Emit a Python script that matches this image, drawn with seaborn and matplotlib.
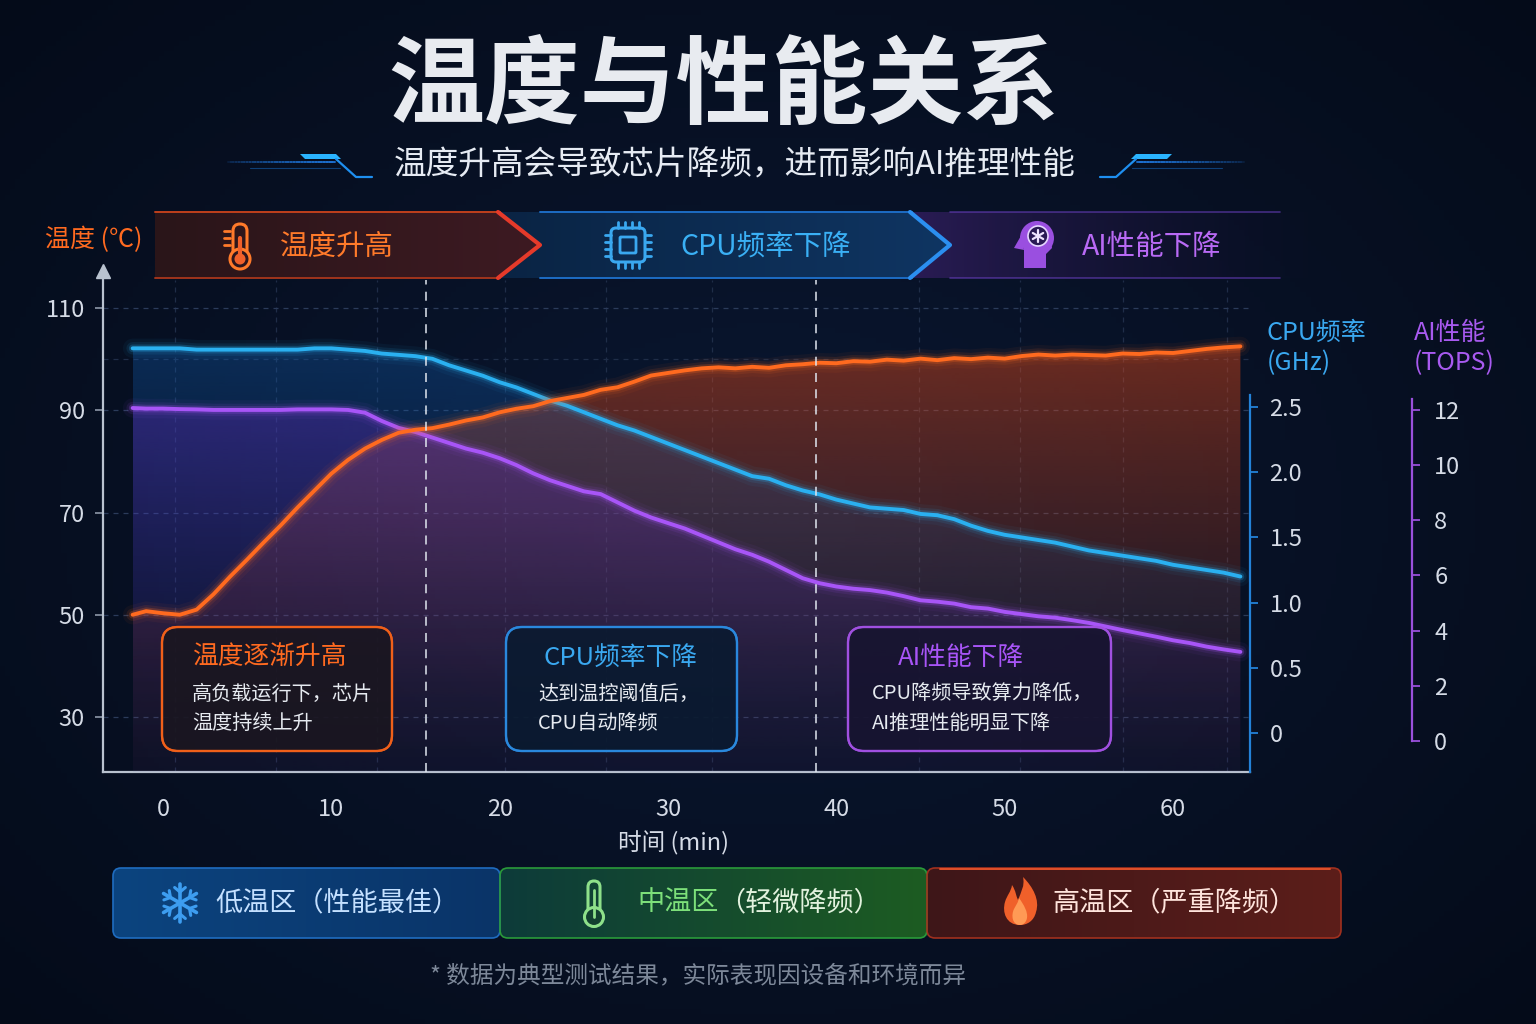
import numpy as np
import pandas as pd
import matplotlib
matplotlib.use("Agg")
import matplotlib.pyplot as plt
import matplotlib.colors as mcolors
from matplotlib.patches import Polygon, FancyBboxPatch, Circle, PathPatch
from matplotlib.path import Path
import seaborn as sns

sns.set_style("white")
plt.rcParams['font.family'] = ['Noto Sans CJK SC', 'DejaVu Sans']
plt.rcParams['axes.unicode_minus'] = False

# ---------------- data ----------------
time_min = [-1.8, -1, 0, 1, 2, 3, 4, 5, 6, 7, 8, 9, 10, 11, 12, 13, 14, 15, 16, 17,
            18, 19, 20, 21, 22, 23, 24, 25, 26, 27, 28, 29, 30, 31, 32, 33, 34, 35,
            36, 37, 38, 39, 40, 41, 42, 43, 44, 45, 46, 47, 48, 49, 50, 51, 52, 53,
            54, 55, 56, 57, 58, 59, 60, 61, 62, 63, 64]
temperature_c = [50.0, 50.7, 50.3, 50.0, 51.0, 54.0, 57.5, 60.8, 64.2, 67.5, 71.0, 74.3,
                 77.6, 80.3, 82.5, 84.2, 85.6, 86.2, 86.5, 87.2, 88.0, 88.6, 89.6, 90.3,
                 90.8, 91.8, 92.4, 93.0, 94.0, 94.5, 95.6, 96.8, 97.3, 97.8, 98.2, 98.4,
                 98.2, 98.5, 98.3, 98.8, 99.0, 99.3, 99.2, 99.6, 99.5, 99.9, 99.7, 100.1,
                 99.8, 100.2, 100.0, 100.3, 100.1, 100.6, 100.9, 100.7, 100.9, 100.8,
                 100.7, 101.1, 101.0, 101.3, 101.2, 101.6, 102.0, 102.3, 102.5]
cpu_ghz = [2.95, 2.95, 2.95, 2.95, 2.94, 2.94, 2.94, 2.94, 2.94, 2.94, 2.94, 2.95, 2.95,
           2.94, 2.93, 2.91, 2.90, 2.89, 2.87, 2.82, 2.78, 2.74, 2.69, 2.65, 2.60, 2.55,
           2.51, 2.46, 2.41, 2.36, 2.32, 2.27, 2.22, 2.17, 2.12, 2.07, 2.02, 1.97, 1.95,
           1.90, 1.86, 1.83, 1.79, 1.76, 1.73, 1.72, 1.71, 1.68, 1.67, 1.64, 1.59, 1.55,
           1.52, 1.50, 1.48, 1.46, 1.43, 1.40, 1.38, 1.36, 1.34, 1.32, 1.29, 1.27, 1.25,
           1.23, 1.20]
ai_tops = [12.07, 12.05, 12.05, 12.03, 12.02, 12.0, 12.0, 12.0, 12.0, 12.0, 12.02, 12.02,
           12.02, 12.0, 11.9, 11.6, 11.35, 11.2, 11.0, 10.8, 10.6, 10.45, 10.25, 10.0,
           9.7, 9.45, 9.25, 9.05, 8.95, 8.65, 8.35, 8.1, 7.9, 7.7, 7.45, 7.2, 6.95, 6.75,
           6.5, 6.2, 5.9, 5.72, 5.6, 5.52, 5.47, 5.38, 5.25, 5.1, 5.05, 4.98, 4.85, 4.8,
           4.68, 4.6, 4.52, 4.47, 4.38, 4.28, 4.15, 4.02, 3.9, 3.78, 3.65, 3.55, 3.42,
           3.32, 3.23]

time_ticks = [0, 10, 20, 30, 40, 50, 60]
temp_ticks = [30, 50, 70, 90, 110]
cpu_ticks = [0, 0.5, 1.0, 1.5, 2.0, 2.5]
cpu_tick_labels = ['0', '0.5', '1.0', '1.5', '2.0', '2.5']
ai_ticks = [0, 2, 4, 6, 8, 10, 12]
phase_marks = [15.6, 38.8]
grid_x = [0.7, 6.7, 12.7, 20.3, 26.3, 32.6, 44.9, 50.9, 57.0, 63.2]

title = "温度与性能关系"
subtitle = "温度升高会导致芯片降频，进而影响AI推理性能"
stage_labels = ["温度升高", "CPU频率下降", "AI性能下降"]
note_titles = ["温度逐渐升高", "CPU频率下降", "AI性能下降"]
note_bodies = ["高负载运行下，芯片\n温度持续上升", "达到温控阈值后，\nCPU自动降频",
               "CPU降频导致算力降低，\nAI推理性能明显下降"]
zone_labels = ["低温区（性能最佳）", "中温区", "（轻微降频）", "高温区（严重降频）"]
footnote = "* 数据为典型测试结果，实际表现因设备和环境而异"

df = pd.DataFrame({"time": time_min, "temp": temperature_c, "cpu": cpu_ghz, "ai": ai_tops})

# ---------------- colours ----------------
BG = '#061122'
ORANGE = '#ff6a1f'
BLUE = '#2ab0f0'
PURPLE = '#a855f7'
TICK_TXT = '#d5dbe6'

fig = plt.figure(figsize=(15.36, 10.24), dpi=100, facecolor=BG)

# background radial gradient
bg = fig.add_axes([0, 0, 1, 1], zorder=-10)
bg.axis('off')
yy, xx = np.mgrid[0:1:200j, 0:1:300j]
r = np.sqrt(((xx - 0.5) / 0.75) ** 2 + ((yy - 0.5) / 0.8) ** 2)
c0 = np.array(mcolors.to_rgb('#0a1731'))
c1 = np.array(mcolors.to_rgb('#040a17'))
bg.imshow(c0 + (c1 - c0) * np.clip(r, 0, 1)[..., None], extent=[0, 1, 0, 1], aspect='auto')

# ---------------- main axes ----------------
L, R, T, B = 103, 1250, 280, 772
ax = fig.add_axes([L / 1536, (1024 - B) / 1024, (R - L) / 1536, (B - T) / 1024])
ax.set_facecolor('none')
ax2 = ax.twinx()      # CPU
ax3 = ax.twinx()      # AI
axL = ax.twinx()      # temperature line on top of all fills

XLIM = (-3.56, 64.57)
YT = (19.24, 115.48)
YC = (-0.299, 3.474)
YA = (-1.124, 16.71)


def grad_fill(a, x, y, base, color, a_top, a_bot, gamma=1.3):
    x = np.asarray(x, float)
    y = np.asarray(y, float)
    poly = a.fill_between(x, y, base, facecolor='none', edgecolor='none')
    path = poly.get_paths()[0]
    n = 256
    g = np.zeros((n, 1, 4))
    g[..., :3] = mcolors.to_rgb(color)
    g[:, 0, 3] = a_bot + (a_top - a_bot) * np.linspace(0, 1, n) ** gamma
    im = a.imshow(g, extent=[x.min(), x.max(), base, y.max()], origin='lower',
                  aspect='auto', interpolation='bilinear', zorder=1)
    im.set_clip_path(path, transform=a.transData)


def glow_line(a, col, color):
    for lw, al in [(14, 0.05), (9, 0.10), (5.5, 0.22)]:
        a.plot(df['time'], df[col], color=color, lw=lw, alpha=al, zorder=3,
               solid_capstyle='round')
    sns.lineplot(data=df, x='time', y=col, ax=a, color=color, linewidth=2.8,
                 zorder=4, legend=False)


grad_fill(ax, df['time'], df['temp'], YT[0], '#e04818', 0.46, 0.03)
grad_fill(ax2, df['time'], df['cpu'], YC[0], '#1462b8', 0.34, 0.02, gamma=1.7)
glow_line(ax2, 'cpu', BLUE)
grad_fill(ax3, df['time'], df['ai'], YA[0], '#6a2cc8', 0.34, 0.04, gamma=1.4)
glow_line(ax3, 'ai', PURPLE)
glow_line(axL, 'temp', ORANGE)

for a in (ax, ax2, ax3, axL):
    a.set_xlim(*XLIM)
    a.set_xlabel('')
    a.set_ylabel('')
ax.set_ylim(*YT)
axL.set_ylim(*YT)
ax2.set_ylim(*YC)
ax3.set_ylim(*YA)

for m in phase_marks:
    axL.axvline(m, color='#dfe5ee', lw=1.3, ls=(0, (5, 4)), alpha=0.85, zorder=6)

# main axis styling
for s in ['top', 'right']:
    ax.spines[s].set_visible(False)
for s in ['left', 'bottom']:
    ax.spines[s].set_color('#b9c2cf')
    ax.spines[s].set_linewidth(1.6)
ax.plot([0], [1.018], marker='^', transform=ax.transAxes, clip_on=False,
        color='#b9c2cf', markersize=10, zorder=10)
ax.set_xticks(time_ticks)
ax.set_yticks(temp_ticks)
ax.set_yticks([100], minor=True)
ax.set_xticks(grid_x, minor=True)
ax.tick_params(which='major', color='#8d97a8', labelcolor=TICK_TXT, labelsize=17,
               length=6, width=1.2)
ax.tick_params(axis='x', which='major', pad=13)
ax.tick_params(axis='y', which='major', pad=7)
ax.tick_params(which='minor', length=0)
ax.grid(which='major', axis='y', color='#2b3b5a', ls=(0, (4, 4)), lw=0.9)
ax.grid(which='minor', color='#1f2d48', ls=(0, (4, 4)), lw=0.9)
ax.set_axisbelow(True)

for a in (ax2, ax3, axL):
    for s in ['top', 'left', 'bottom']:
        a.spines[s].set_visible(False)
axL.spines['right'].set_visible(False)
axL.set_yticks([])

ax2.spines['right'].set_color('#2382d8')
ax2.spines['right'].set_linewidth(1.6)
ax2.spines['right'].set_bounds(YC[0], 2.59)
ax2.set_yticks(cpu_ticks)
ax2.set_yticklabels(cpu_tick_labels)
ax2.tick_params(axis='y', color='#2382d8', labelcolor=TICK_TXT, labelsize=17,
                length=6, width=1.3, pad=8)

ax3.spines['right'].set_position(('axes', (1412 - L) / (R - L)))
ax3.spines['right'].set_color('#9a50dc')
ax3.spines['right'].set_linewidth(1.6)
ax3.spines['right'].set_bounds(0, 12.4)
ax3.set_yticks(ai_ticks)
ax3.tick_params(axis='y', color='#9a50dc', labelcolor=TICK_TXT, labelsize=17,
                length=6, width=1.3, pad=10)

# ---------------- decoration overlay (pixel coordinates) ----------------
deco = fig.add_axes([0, 0, 1, 1], zorder=5)
deco.set_facecolor('none')
deco.axis('off')
deco.set_xlim(0, 1536)
deco.set_ylim(1024, 0)


def hgrad(patch, cl, cr, al=1.0, ar=1.0, x0=0, x1=1536, y0=0, y1=1024, z=1):
    patch.set_facecolor('none')
    patch.set_edgecolor('none')
    deco.add_patch(patch)
    n = 256
    t = np.linspace(0, 1, n)
    g = np.zeros((1, n, 4))
    rl, rr = np.array(mcolors.to_rgb(cl)), np.array(mcolors.to_rgb(cr))
    g[0, :, :3] = rl[None, :] * (1 - t[:, None]) + rr[None, :] * t[:, None]
    g[0, :, 3] = al * (1 - t) + ar * t
    im = deco.imshow(g, extent=[x0, x1, y1, y0], aspect='auto',
                     interpolation='bilinear', zorder=z)
    im.set_clip_path(patch)


# title & subtitle
deco.text(724, 88, title, ha='center', va='center', fontsize=69, fontweight='heavy',
          color='#e8ebf0', zorder=5)
deco.text(735, 165, subtitle, ha='center', va='center', fontsize=23.5,
          color='#e6ebf3', zorder=5)

# subtitle ornaments
for side in (1, -1):
    cx = 736
    def X(v):
        return cx + side * (v - cx)
    xs = np.linspace(228, 335, 40)
    for i in range(len(xs) - 1):
        deco.plot([X(xs[i]), X(xs[i + 1])], [162, 162], color='#1e74d8',
                  lw=1.4, alpha=0.15 + 0.8 * i / len(xs), zorder=4)
    deco.add_patch(Polygon([(X(300), 154), (X(336), 154), (X(341), 159), (X(305), 159)],
                           closed=True, facecolor='#2ab4ff', edgecolor='none', zorder=4))
    deco.plot([X(336), X(356), X(372)], [159, 177, 177], color='#1e8ff0', lw=1.6, zorder=4)
    deco.plot([X(250), X(340)], [168, 168], color='#1560b0', lw=0.8, alpha=0.6, zorder=4)

# stage banners
p1 = [(155, 212), (500, 212), (540, 245), (500, 278), (155, 278)]
p2 = [(500, 212), (912, 212), (950, 245), (912, 278), (500, 278), (540, 245)]
p3 = [(912, 212), (1320, 212), (1335, 245), (1320, 278), (912, 278), (950, 245)]
hgrad(Polygon(p1, closed=True), '#2a1519', '#3d1a22', x0=155, x1=540, y0=212, y1=278)
hgrad(Polygon(p2, closed=True), '#0a2444', '#0f3562', x0=500, x1=950, y0=212, y1=278)
hgrad(Polygon(p3, closed=True), '#2a1c55', '#15112e', 1.0, 0.0, x0=912, x1=1335,
      y0=212, y1=278)
deco.plot([155, 500], [212, 212], color='#c0401c', lw=1.4, zorder=3)
deco.plot([155, 500], [278, 278], color='#a0341c', lw=1.4, zorder=3)
deco.plot([540, 912], [212, 212], color='#1d6cc4', lw=1.4, zorder=3)
deco.plot([540, 912], [278, 278], color='#1d6cc4', lw=1.4, zorder=3)
deco.plot([950, 1280], [212, 212], color='#6a3fc0', lw=1.2, alpha=0.6, zorder=3)
deco.plot([950, 1280], [278, 278], color='#6a3fc0', lw=1.2, alpha=0.6, zorder=3)
deco.plot([498, 540, 498], [212, 245, 278], color='#e53a2a', lw=3, zorder=4)
deco.plot([910, 950, 910], [212, 245, 278], color='#2b8ff0', lw=3, zorder=4)

# thermometer icon (orange)
OR_I = '#ff7a2a'
deco.add_patch(FancyBboxPatch((233, 224), 14, 34, boxstyle='round,pad=0,rounding_size=7',
                              facecolor='none', edgecolor=OR_I, lw=2.2, zorder=5))
deco.add_patch(Circle((240, 259), 10, facecolor='#2e161c', edgecolor=OR_I, lw=2.2, zorder=6))
deco.add_patch(Circle((240, 259), 5.5, facecolor='#f0602a', edgecolor='none', zorder=7))
deco.plot([240, 240], [238, 258], color='#f0602a', lw=3, zorder=7)
for yv in (231, 238, 245):
    deco.plot([224, 230], [yv, yv], color=OR_I, lw=2, zorder=5)
deco.text(280, 247, stage_labels[0], ha='left', va='center', fontsize=20.5,
          color=OR_I, zorder=6)

# CPU icon (blue)
BL_I = '#3aa8f0'
deco.add_patch(FancyBboxPatch((611, 228), 34, 34, boxstyle='round,pad=0,rounding_size=5',
                              facecolor='#0c2a50', edgecolor=BL_I, lw=2.2, zorder=5))
deco.add_patch(FancyBboxPatch((620, 237), 16, 16, boxstyle='round,pad=0,rounding_size=1',
                              facecolor='none', edgecolor=BL_I, lw=2.0, zorder=6))
for off in (-10.5, -3.5, 3.5, 10.5):
    deco.plot([628 + off, 628 + off], [222, 228], color=BL_I, lw=2, zorder=5)
    deco.plot([628 + off, 628 + off], [262, 268], color=BL_I, lw=2, zorder=5)
    deco.plot([605, 611], [245 + off, 245 + off], color=BL_I, lw=2, zorder=5)
    deco.plot([645, 651], [245 + off, 245 + off], color=BL_I, lw=2, zorder=5)
deco.text(680, 247, stage_labels[1], ha='left', va='center', fontsize=20.5,
          color='#3ab0f5', zorder=6)

# head icon (purple)
PU_I = '#9a4fe0'
deco.add_patch(Circle((1037, 238), 17, facecolor=PU_I, edgecolor='none', zorder=5))
deco.add_patch(Polygon([(1024, 246), (1024, 268), (1046, 268), (1046, 254), (1052, 248),
                        (1050, 238)], closed=True, facecolor=PU_I, edgecolor='none', zorder=5))
deco.add_patch(Polygon([(1022, 234), (1014, 248), (1024, 250)], closed=True,
                       facecolor=PU_I, edgecolor='none', zorder=5))
deco.add_patch(Circle((1038, 236), 10, facecolor='#2a1a55', edgecolor='#e6d6ff', lw=1.2,
                      zorder=6))
for ang in (90, 30, -30):
    a_ = np.deg2rad(ang)
    deco.plot([1038 - 6 * np.cos(a_), 1038 + 6 * np.cos(a_)],
              [236 - 6 * np.sin(a_), 236 + 6 * np.sin(a_)], color='#efe4ff', lw=1.6, zorder=7)
deco.text(1082, 247, stage_labels[2], ha='left', va='center', fontsize=20.5,
          color='#b96af5', zorder=6)

# axis titles
deco.text(45, 240, "温度 (℃)", ha='left', va='center', fontsize=18, color='#ff6a20', zorder=6)
deco.text(1267, 348, "CPU频率\n(GHz)", ha='left', va='center', fontsize=18,
          color='#3aa8f0', linespacing=1.25, zorder=6)
deco.text(1414, 348, "AI性能\n(TOPS)", ha='left', va='center', fontsize=18,
          color='#a85af0', linespacing=1.25, zorder=6)
deco.text(673, 843, "时间 (min)", ha='center', va='center', fontsize=17,
          color=TICK_TXT, zorder=6)

# annotation boxes
boxes = [
    (162, 230, '#f0601a', '#1a1620', '#ff6a20', 270, 192),
    (506, 231, '#2a88dd', '#0a1a30', '#3aa8f0', 621, 538),
    (848, 263, '#a050e0', '#171430', '#a855f7', 961, 872),
]
for i, (bx, bw, ec, fc, tc, tcx, bodyx) in enumerate(boxes):
    deco.add_patch(FancyBboxPatch((bx, 627), bw, 124, boxstyle='round,pad=0,rounding_size=16',
                                  facecolor=fc, edgecolor=ec, lw=1.6, alpha=0.9, zorder=5))
    deco.add_patch(FancyBboxPatch((bx, 627), bw, 124, boxstyle='round,pad=0,rounding_size=16',
                                  facecolor='none', edgecolor=ec, lw=1.6, zorder=6))
    deco.text(tcx, 658, note_titles[i], ha='center', va='center', fontsize=18.5,
              color=tc, zorder=7)
    deco.text(bodyx, 709, note_bodies[i], ha='left', va='center', fontsize=14.5,
              color='#e6eaf0', linespacing=1.55, zorder=7)

# bottom zone legend
zA = FancyBboxPatch((113, 868), 387, 70, boxstyle='round,pad=0,rounding_size=8')
hgrad(zA, '#0c447f', '#0a3468', x0=113, x1=500, y0=868, y1=938)
deco.add_patch(FancyBboxPatch((113, 868), 387, 70, boxstyle='round,pad=0,rounding_size=8',
                              facecolor='none', edgecolor='#1f6cc0', lw=1.2, zorder=2))
zB = FancyBboxPatch((500, 868), 427, 70, boxstyle='round,pad=0,rounding_size=8')
hgrad(zB, '#0d3b3a', '#1d5c22', x0=500, x1=927, y0=868, y1=938)
deco.add_patch(FancyBboxPatch((500, 868), 427, 70, boxstyle='round,pad=0,rounding_size=8',
                              facecolor='none', edgecolor='#2a9a3a', lw=1.2, zorder=2))
zC = FancyBboxPatch((927, 868), 414, 70, boxstyle='round,pad=0,rounding_size=8')
hgrad(zC, '#3e1618', '#5c1e1a', x0=927, x1=1341, y0=868, y1=938)
deco.add_patch(FancyBboxPatch((927, 868), 414, 70, boxstyle='round,pad=0,rounding_size=8',
                              facecolor='none', edgecolor='#a0301e', lw=1.2, zorder=2))
deco.plot([940, 1330], [868.5, 868.5], color='#e0502a', lw=1.4, zorder=3)

# snowflake
SN = '#3d9df0'
for k in range(6):
    a_ = np.deg2rad(90 + 60 * k)
    ex, ey = 180 + 19 * np.cos(a_), 903 - 19 * np.sin(a_)
    deco.plot([180, ex], [903, ey], color=SN, lw=2.6, zorder=4, solid_capstyle='round')
    bx_, by_ = 180 + 11 * np.cos(a_), 903 - 11 * np.sin(a_)
    for d in (-50, 50):
        b = a_ + np.deg2rad(d)
        deco.plot([bx_, bx_ + 7 * np.cos(b)], [by_, by_ - 7 * np.sin(b)], color=SN, lw=2.2,
                  zorder=4, solid_capstyle='round')
ZFS = 19.5
deco.text(215, 903, zone_labels[0], ha='left', va='center', fontsize=ZFS,
          color='#c4e0ff', zorder=5)

# green thermometer
GR = '#8ee08a'
deco.add_patch(FancyBboxPatch((588, 881), 12, 34, boxstyle='round,pad=0,rounding_size=6',
                              facecolor='none', edgecolor=GR, lw=2.2, zorder=4))
deco.add_patch(Circle((594, 917), 9.5, facecolor='#123f30', edgecolor=GR, lw=2.2, zorder=5))
deco.plot([594, 594], [890, 917], color=GR, lw=2, zorder=6)
deco.text(637, 903, zone_labels[1], ha='left', va='center', fontsize=ZFS,
          color='#7de07a', zorder=5)
deco.text(637 + 3 * ZFS * 100 / 72, 903, zone_labels[2], ha='left', va='center',
          fontsize=ZFS, color='#e2f2de', zorder=5)

# flame
fv = [(1020, 925), (1006, 925), (1002, 912), (1005, 902), (1007, 895), (1011, 892),
      (1012, 885), (1016, 891), (1016, 896), (1018, 900), (1021, 892), (1025, 886),
      (1023, 877), (1033, 887), (1040, 900), (1036, 912), (1034, 921), (1027, 925),
      (1020, 925)]
codes = [Path.MOVETO] + [Path.CURVE4] * 18
deco.add_patch(PathPatch(Path(fv, codes), facecolor='#f0602a', edgecolor='none', zorder=4))
fv2 = [(1020, 925), (1012, 925), (1011, 915), (1014, 909), (1016, 905), (1018, 903),
       (1019, 898), (1024, 905), (1028, 912), (1027, 918), (1026, 923), (1023, 925),
       (1020, 925)]
deco.add_patch(PathPatch(Path(fv2, [Path.MOVETO] + [Path.CURVE4] * 12),
                         facecolor='#ff9a55', edgecolor='none', zorder=5))
deco.text(1052, 903, zone_labels[3], ha='left', va='center', fontsize=ZFS,
          color='#ffe4dc', zorder=5)

# footnote
deco.text(698, 976, footnote, ha='center', va='center', fontsize=17,
          color='#7d8899', zorder=5)

deco.set_xlim(0, 1536)
deco.set_ylim(1024, 0)

fig.savefig("out.png", dpi=100, facecolor=BG)
